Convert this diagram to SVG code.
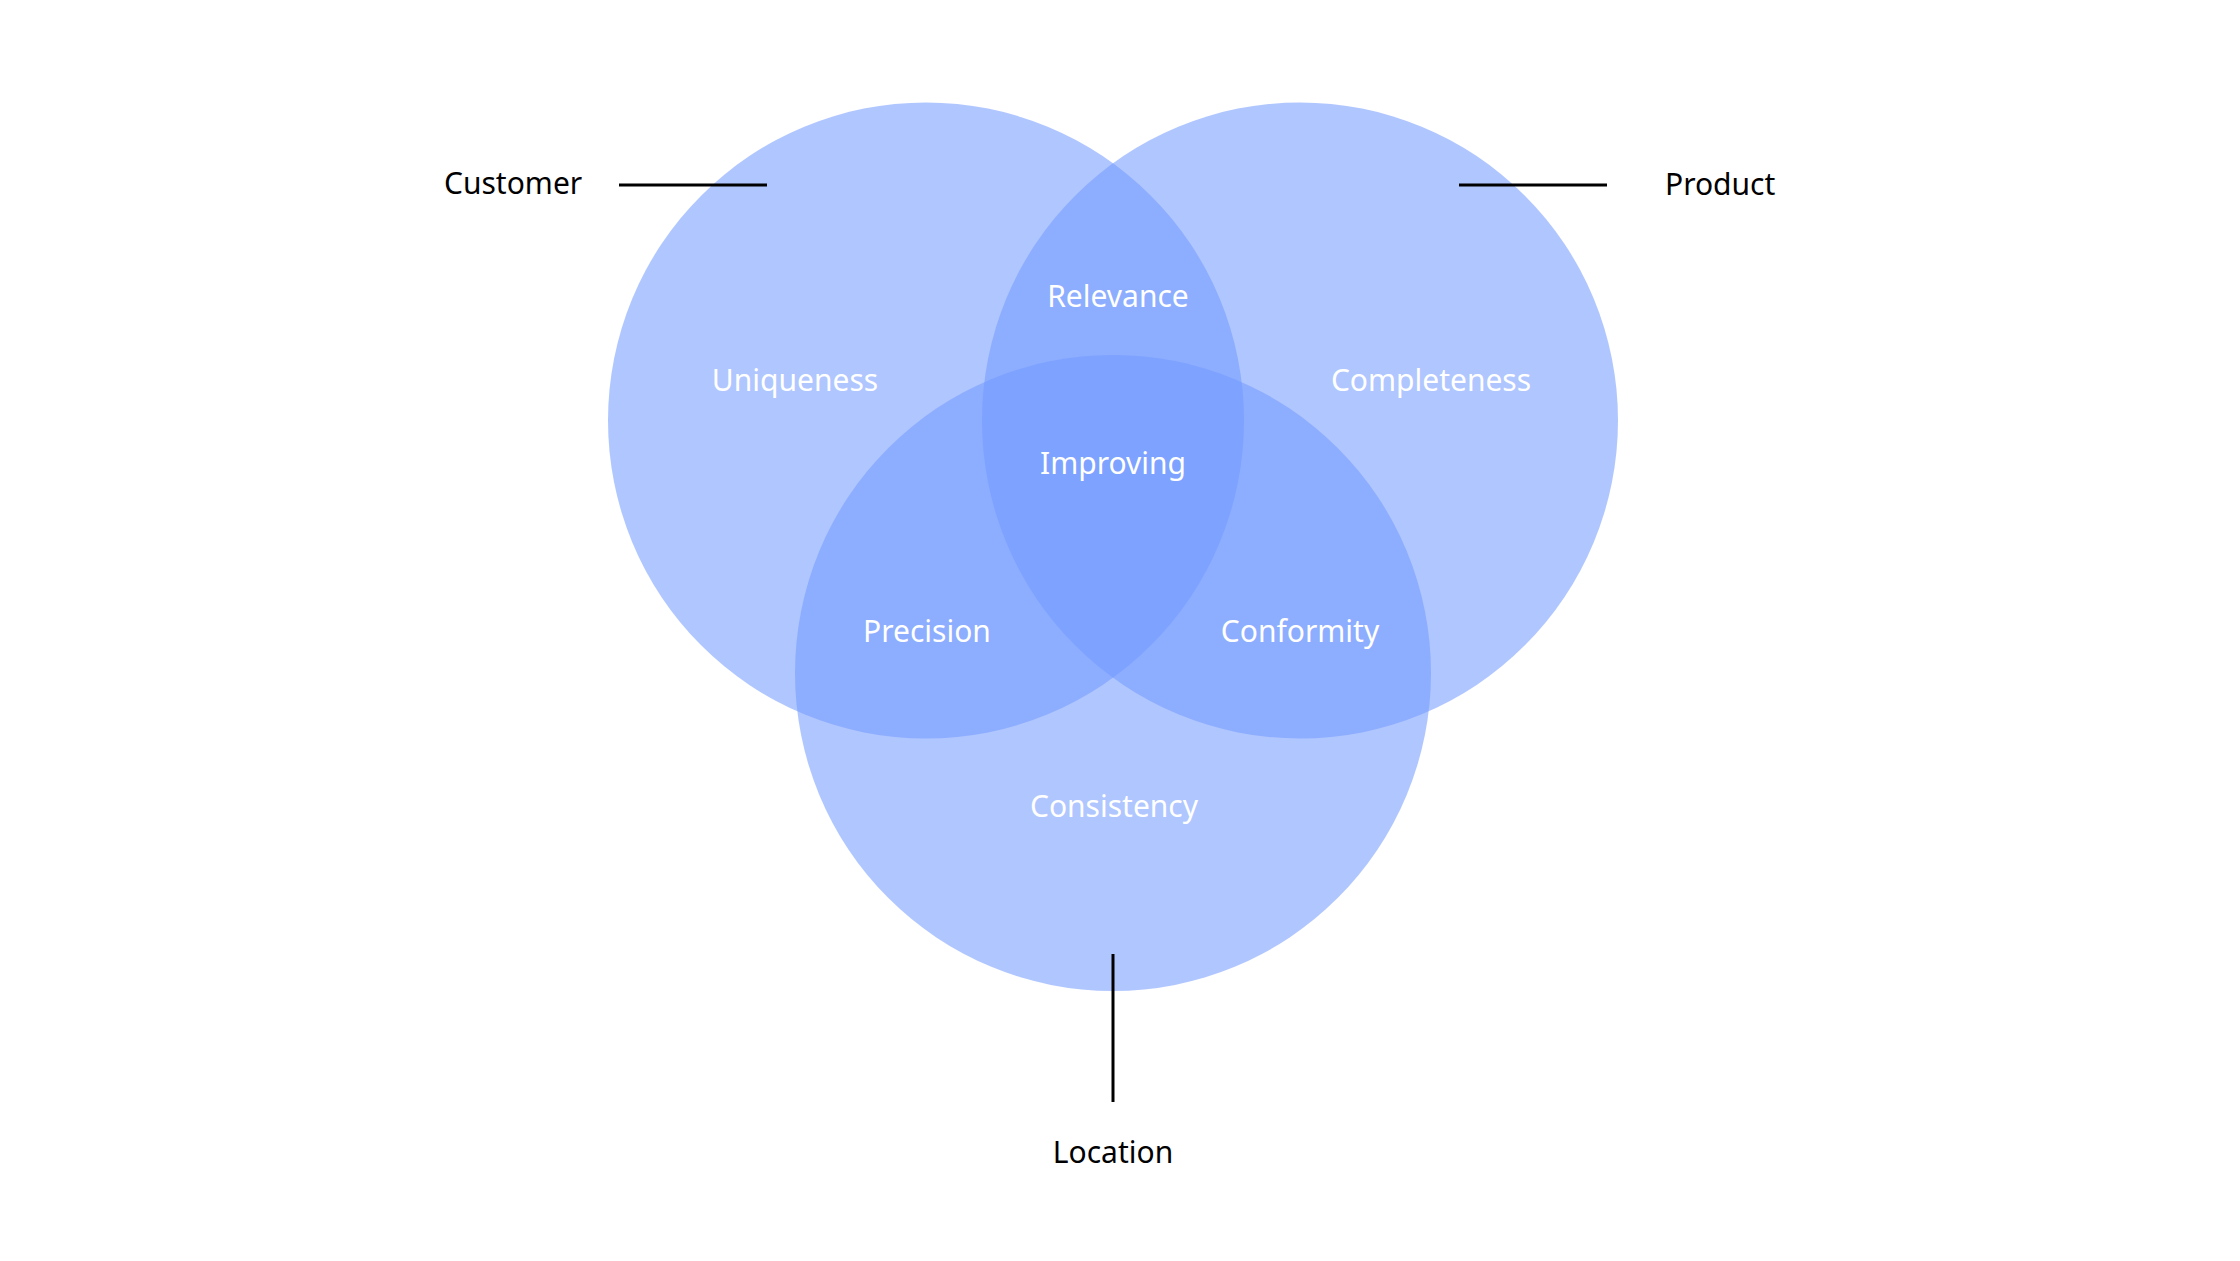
<svg xmlns="http://www.w3.org/2000/svg" width="2240" height="1261" viewBox="0 0 2240 1261">
<style>
.c{fill:rgb(113,153,255);fill-opacity:0.557}
.in{font-family:"Noto Sans","Open Sans",sans-serif;font-size:30px;fill:#ffffff;text-anchor:middle}
.out{font-family:"Noto Sans","Open Sans",sans-serif;font-size:30px;fill:#000000}
.ln{stroke:#000000;stroke-width:3;fill:none}
</style>
<rect width="2240" height="1261" fill="#ffffff"/>
<g id="customer"><circle class="c" cx="926" cy="420.5" r="318"/><text class="out" x="444" y="194">Customer</text></g>
<g id="product"><circle class="c" cx="1300" cy="420.5" r="318"/><text class="out" x="1665" y="195">Product</text></g>
<g id="location"><circle class="c" cx="1113" cy="673" r="318"/><text class="out" x="1113" y="1163" text-anchor="middle">Location</text></g>
<g id="labels">
<text class="in" x="1118" y="307">Relevance</text>
<text class="in" x="795" y="391">Uniqueness</text>
<text class="in" x="1431" y="391">Completeness</text>
<text class="in" x="1113" y="474">Improving</text>
<text class="in" x="927" y="642">Precision</text>
<text class="in" x="1300" y="642">Conformity</text>
<text class="in" x="1114" y="817">Consistency</text>
</g>
<g id="connectors">
<line class="ln" x1="619" y1="185" x2="767" y2="185"/>
<line class="ln" x1="1459" y1="185" x2="1607" y2="185"/>
<line class="ln" x1="1113" y1="954" x2="1113" y2="1102"/>
</g>
</svg>
